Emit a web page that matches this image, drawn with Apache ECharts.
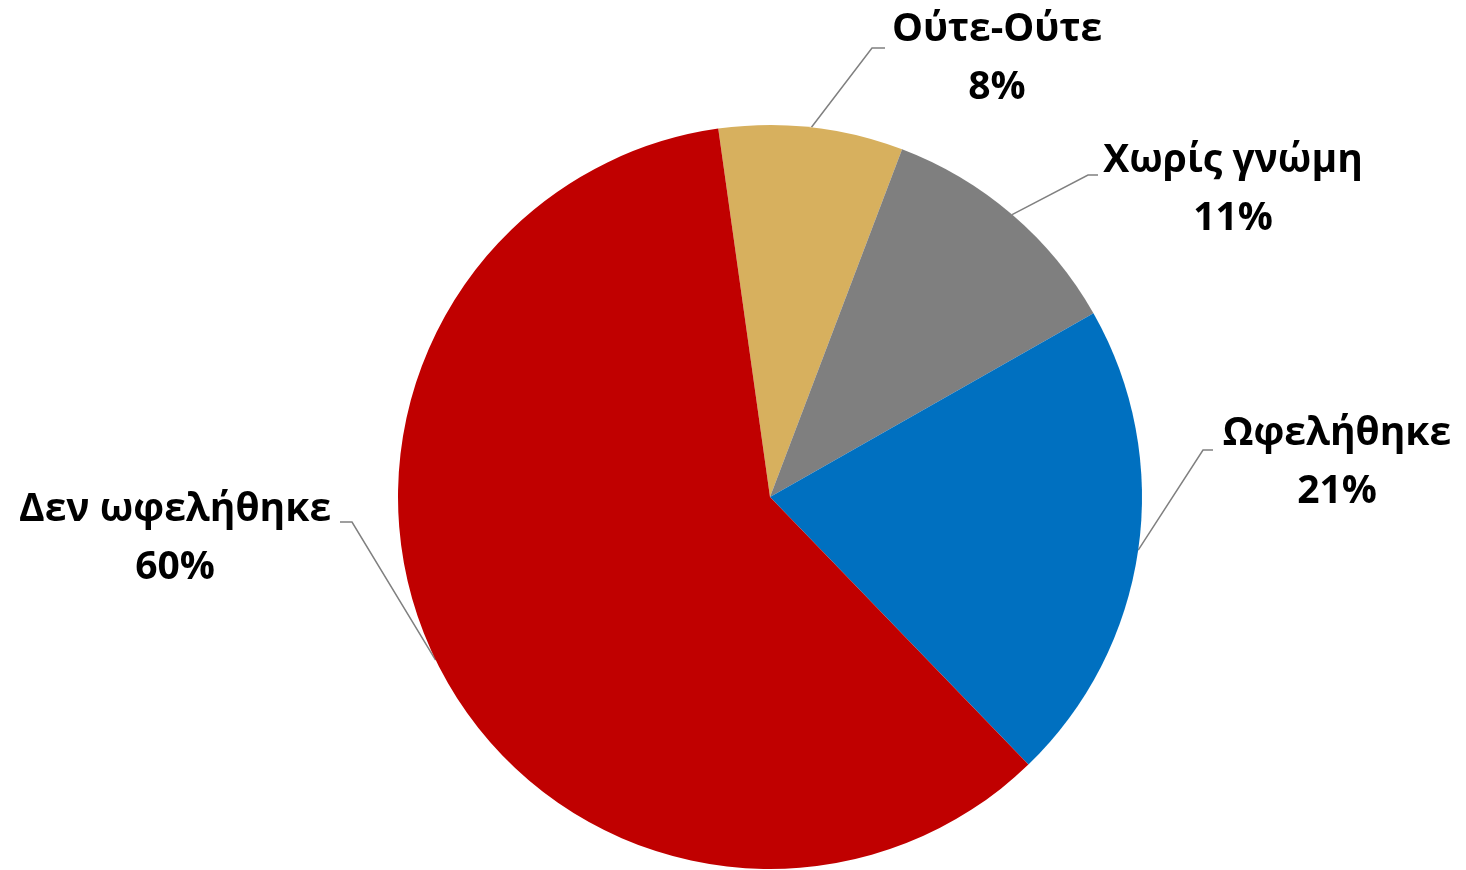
<!DOCTYPE html>
<html>
<head>
<meta charset="utf-8">
<script src="https://cdn.jsdelivr.net/npm/echarts@6/dist/echarts.min.js"></script>
<style>
  html, body { margin: 0; padding: 0; background: #ffffff; }
  #chart { width: 1466px; height: 870px; }
</style>
</head>
<body>
<div id="chart"></div>
<script>
// ---- Data ----
const categories = ['Ούτε-Ούτε', 'Χωρίς γνώμη', 'Ωφελήθηκε', 'Δεν ωφελήθηκε'];
const values = [8, 11, 21, 60];
const colors = ['#D7B05E', '#7F7F7F', '#0070C0', '#C00000'];

// ---- Label layout (positions of the text boxes and leader-line bends) ----
const labelCenters = [[997, 59], [1233, 190], [1337, 463], [175, 539]];
const lineBends = [[[872, 48], [885, 48]], [[1088, 175], [1098, 175]], [[1203, 450], [1213, 450]], [[352, 522], [340, 522]]];

const chart = echarts.init(document.getElementById('chart'), null, { renderer: 'canvas' });

const option = {
  backgroundColor: '#ffffff',
  animation: false,
  series: [{
    type: 'pie',
    center: [770, 497],
    radius: 372,
    startAngle: 98,
    clockwise: true,
    avoidLabelOverlap: false,
    data: categories.map((name, i) => ({ name: name, value: values[i], itemStyle: { color: colors[i] } })),
    label: {
      show: true,
      position: 'outside',
      formatter: '{b}\n{c}%',
      fontFamily: '"Open Sans", "Noto Sans", sans-serif',
      fontWeight: 'bold',
      fontSize: 39,
      lineHeight: 58,
      color: '#000000',
      align: 'center'
    },
    labelLine: {
      show: true,
      length: 30,
      length2: 20,
      lineStyle: { color: '#808080', width: 1.5 }
    },
    labelLayout: function (params) {
      const i = params.dataIndex;
      const anchor = params.labelLinePoints ? params.labelLinePoints[0] : null;
      const res = {
        x: labelCenters[i][0],
        y: labelCenters[i][1],
        align: 'center',
        verticalAlign: 'middle'
      };
      if (anchor) {
        res.labelLinePoints = [anchor, lineBends[i][0], lineBends[i][1]];
      }
      return res;
    },
    emphasis: { disabled: true }
  }]
};

chart.setOption(option);
</script>
</body>
</html>
